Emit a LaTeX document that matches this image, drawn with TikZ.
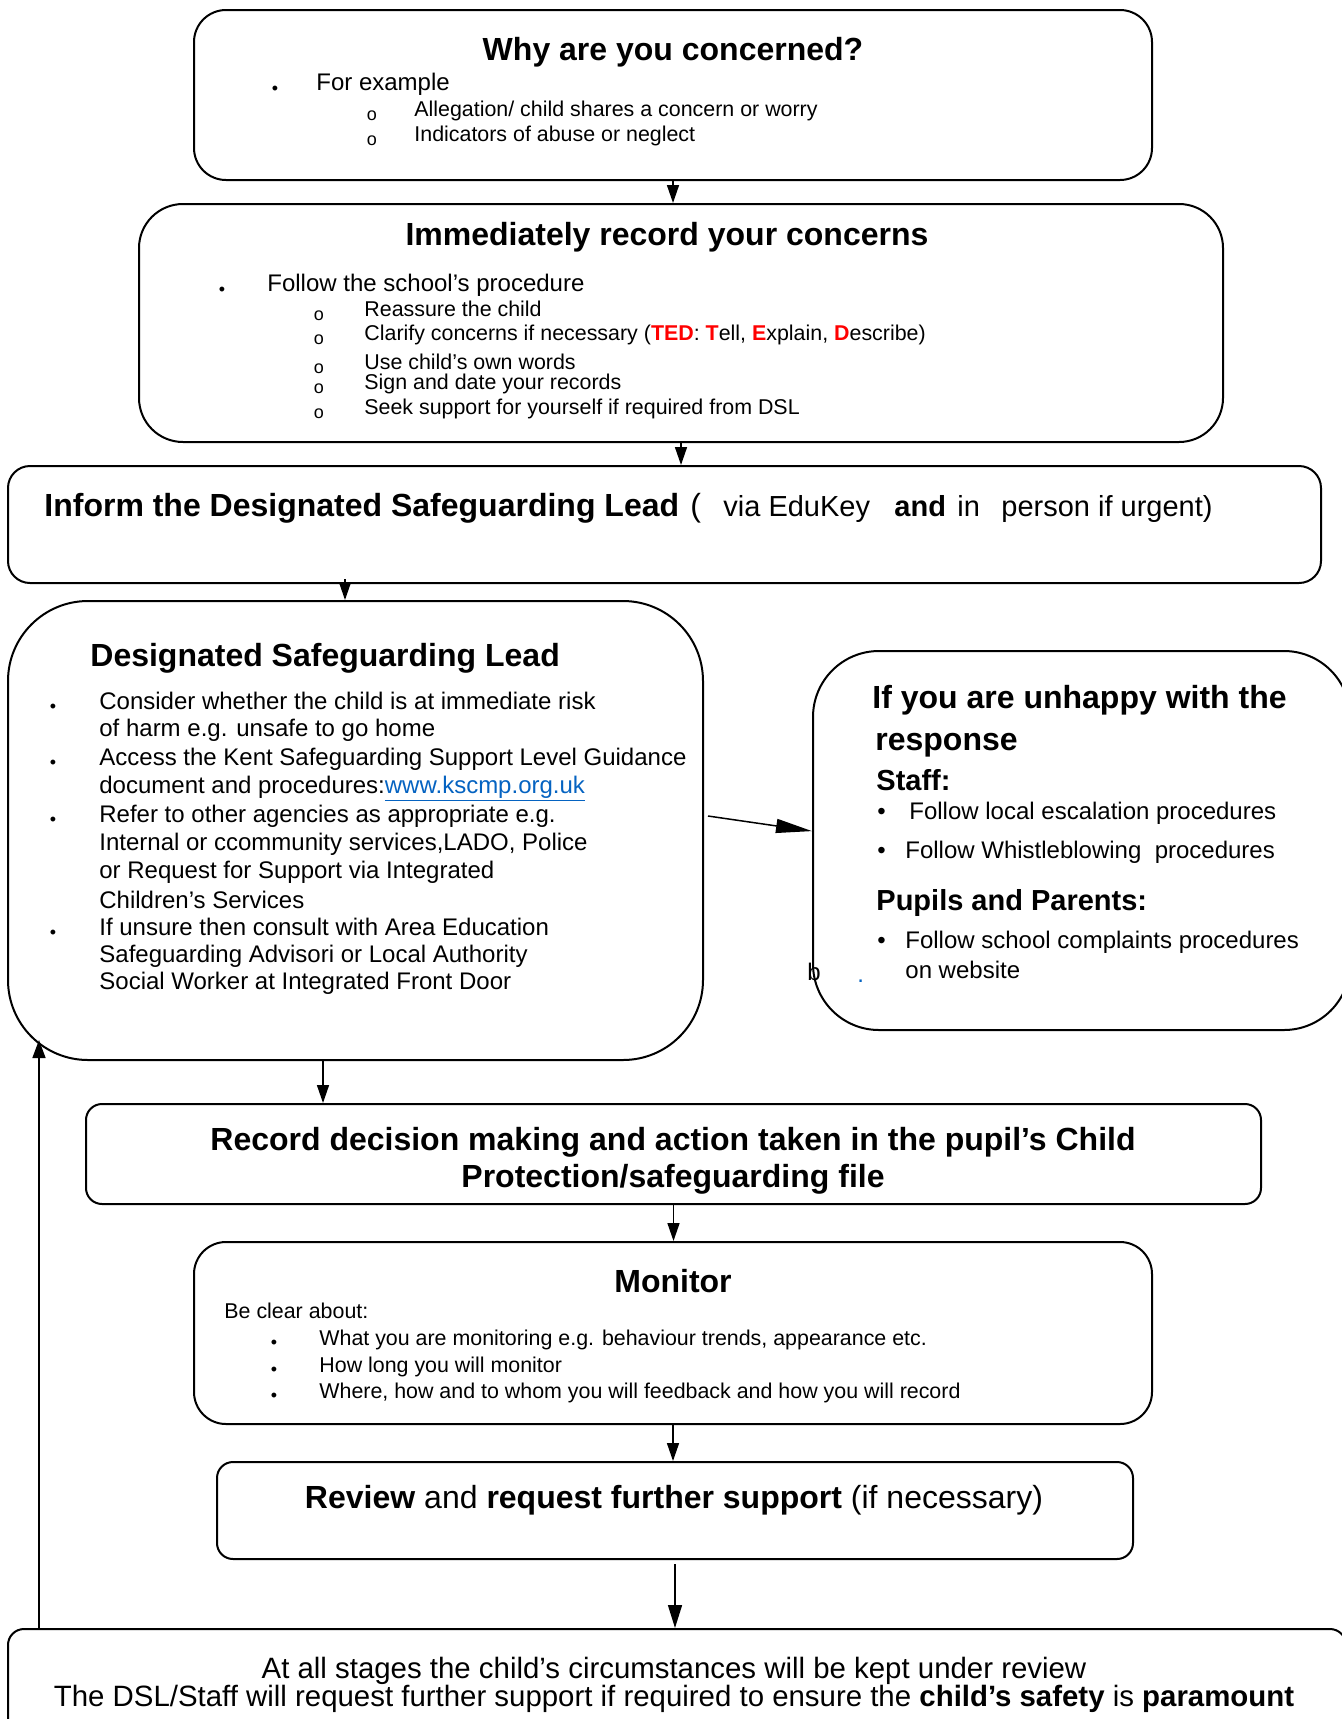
\documentclass[tikz,border=0pt]{standalone}
\usepackage{fontspec}
\setmainfont{Liberation Sans}
\usetikzlibrary{arrows.meta}
\usetikzlibrary{fit}
\definecolor{tedred}{RGB}{255,0,0}
\definecolor{linkblue}{RGB}{5,99,193}

\begin{document}
\begin{tikzpicture}[x=0.5pt, y=-0.5pt]
    \tikzstyle{box} = [draw, line width=1pt, inner sep=0pt]
    \tikzstyle{flow} = [line width=0.75pt, -{Triangle[length=9pt, width=6pt]}]
    \tikzstyle{txt} = [anchor=base west, inner sep=0pt]
    \tikzstyle{ctr} = [anchor=base, inner sep=0pt]
    \tikzstyle{headfont} = [font=\fontsize{16}{19}\selectfont\bfseries]
    \tikzstyle{midfont} = [font=\fontsize{14.5}{17}\selectfont]
    \tikzstyle{midbold} = [font=\fontsize{14.5}{17}\selectfont\bfseries]
    \tikzstyle{bodyfont} = [font=\fontsize{12}{14}\selectfont]
    \tikzstyle{smallfont} = [font=\fontsize{10.7}{12}\selectfont]
    \tikzstyle{bul} = [inner sep=0pt, font=\fontsize{9}{9}\selectfont]
    \tikzstyle{ring} = [anchor=base, inner sep=0pt, font=\fontsize{9}{9}\selectfont]
    \useasboundingbox (0,0) rectangle (1341,1719);

    \node[box, rounded corners=16pt, fit={(194,10) (1152,180)}] (why) {};
    \node[box, rounded corners=22pt, fit={(139,204) (1223,442)}] (record) {};
    \node[box, rounded corners=11pt, fit={(8,466) (1321,583)}] (inform) {};
    \node[box, rounded corners=40pt, fit={(8,601) (703,1060)}] (dsl) {};
    \node[box, rounded corners=33pt, fit={(813,651) (1350,1030)}] (unhappy) {};
    \node[box, rounded corners=8pt, fit={(86,1104) (1261,1204)}] (decision) {};
    \node[box, rounded corners=16pt, fit={(194,1242) (1152,1424)}] (monitor) {};
    \node[box, rounded corners=8pt, fit={(217,1462) (1133,1559)}] (review) {};
    \node[box, rounded corners=8pt, fit={(8,1629) (1346,1770)}] (stages) {};

    \node[ctr, headfont] (whyhead) at (673,60) {Why are you concerned?};
    \node[bul] (whyb) at (275,90) {•};
    \node[txt, bodyfont] (why1) at (316,90) {For example};
    \node[ring] (whyr1) at (372,120) {o};
    \node[ring] (whyr2) at (372,145) {o};
    \node[txt, smallfont] (why2) at (414,116) {Allegation/ child shares a concern or worry};
    \node[txt, smallfont] (why3) at (414,141) {Indicators of abuse or neglect};

    \node[ctr, headfont] (rechead) at (667,245) {Immediately record your concerns};
    \node[bul] (recb) at (222,291) {•};
    \node[txt, bodyfont] (rec1) at (267,291) {Follow the school’s procedure};
    \node[ring] (recr1) at (319,320) {o};
    \node[ring] (recr2) at (319,344) {o};
    \node[ring] (recr3) at (319,373) {o};
    \node[ring] (recr4) at (319,393) {o};
    \node[ring] (recr5) at (319,418) {o};
    \node[txt, smallfont] (rec2) at (364,316) {Reassure the child};
    \node[txt, smallfont] (rec3) at (364,340) {Clarify concerns if necessary (\textcolor{tedred}{\textbf{TED}}: \textcolor{tedred}{\textbf{T}}ell, \textcolor{tedred}{\textbf{E}}xplain, \textcolor{tedred}{\textbf{D}}escribe)};
    \node[txt, smallfont] (rec4) at (364,369) {Use child’s own words};
    \node[txt, smallfont] (rec5) at (364,389) {Sign and date your records};
    \node[txt, smallfont] (rec6) at (364,414) {Seek support for yourself if required from DSL};

    \node[txt, headfont] (inf1) at (44,516) {Inform the Designated Safeguarding Lead};
    \node[txt, font=\fontsize{16}{19}\selectfont] (inf2) at (690,516) {(};
    \node[txt, midfont] (inf3) at (723,516) {via EduKey};
    \node[txt, midbold] (inf4) at (894,516) {and};
    \node[txt, midfont] (inf5) at (957,516) {in};
    \node[txt, midfont] (inf6) at (1001,516) {person if urgent)};

    \node[txt, headfont] (dslhead) at (90,666) {Designated Safeguarding Lead};
    \node[bul] (dslb1) at (53,708) {•};
    \node[bul] (dslb2) at (53,764) {•};
    \node[bul] (dslb3) at (53,821) {•};
    \node[bul] (dslb4) at (53,934) {•};
    \node[txt, bodyfont] (dsl1) at (99,709) {Consider whether the child is at immediate risk};
    \node[txt, bodyfont] (dsl2) at (99,736) {of harm e.g. unsafe to go home};
    \node[txt, bodyfont] (dsl3) at (99,765) {Access the Kent Safeguarding Support Level Guidance};
    \node[txt, bodyfont] (dsl4) at (99,793) {document and procedures:\textcolor{linkblue}{\underline{www.kscmp.org.uk}}};
    \node[txt, bodyfont] (dsl5) at (99,822) {Refer to other agencies as appropriate e.g.};
    \node[txt, bodyfont] (dsl6) at (99,850) {Internal or ccommunity services,LADO, Police};
    \node[txt, bodyfont] (dsl7) at (99,878) {or Request for Support via Integrated};
    \node[txt, bodyfont] (dsl8) at (99,908) {Children’s Services};
    \node[txt, bodyfont] (dsl9) at (99,935) {If unsure then consult with Area Education};
    \node[txt, bodyfont] (dsl10) at (99,962) {Safeguarding Advisori or Local Authority};
    \node[txt, bodyfont] (dsl11) at (99,989) {Social Worker at Integrated Front Door};

    \node[txt, headfont] (unh1) at (872,708) {If you are unhappy with the};
    \node[txt, headfont] (unh2) at (875,750) {response};
    \node[txt, midbold] (unh3) at (876,790) {Staff:};
    \node[txt, bodyfont] (unhb1) at (877,819) {•};
    \node[txt, bodyfont] (unh4) at (909,819) {Follow local escalation procedures};
    \node[txt, bodyfont] (unhb2) at (877,858) {•};
    \node[txt, bodyfont] (unh5) at (905,858) {Follow Whistleblowing\ \ procedures};
    \node[txt, midbold] (unh6) at (876,910) {Pupils and Parents:};
    \node[txt, bodyfont] (unhb3) at (877,948) {•};
    \node[txt, bodyfont] (unh7) at (905,948) {Follow school complaints procedures};
    \node[txt, bodyfont] (unh8) at (905,978) {on website};
    \node[txt, bodyfont] (unh9) at (807,980) {b};
    \node[txt, bodyfont, text=linkblue] (unh10) at (857,982) {.};

    \node[ctr, headfont] (dec1) at (673,1150) {Record decision making and action taken in the pupil’s Child};
    \node[ctr, headfont] (dec2) at (673,1187) {Protection/safeguarding file};

    \node[ctr, headfont] (monhead) at (673,1292) {Monitor};
    \node[txt, smallfont] (mon0) at (224,1318) {Be clear about:};
    \node[bul] (monb1) at (274,1344) {•};
    \node[bul] (monb2) at (274,1371) {•};
    \node[bul] (monb3) at (274,1397) {•};
    \node[txt, smallfont] (mon1) at (319,1345) {What you are monitoring e.g. behaviour trends, appearance etc.};
    \node[txt, smallfont] (mon2) at (319,1372) {How long you will monitor};
    \node[txt, smallfont] (mon3) at (319,1398) {Where, how and to whom you will feedback and how you will record};

    \node[ctr, font=\fontsize{16}{19}\selectfont] (revtext) at (674,1508) {\textbf{Review} and \textbf{request further support} (if necessary)};

    \node[ctr, font=\fontsize{14.7}{17}\selectfont] (stg1) at (674,1678) {At all stages the child’s circumstances will be kept under review};
    \node[ctr, font=\fontsize{14.7}{17}\selectfont] (stg2) at (674,1706) {The DSL/Staff will request further support if required to ensure the \textbf{child’s safety} is \textbf{paramount}};

    \coordinate (k1) at (345,579);
    \coordinate (k2) at (708,816);
    \coordinate (k3) at (323,1104);
    \coordinate (k4) at (39,1040);
    \draw[flow] (why.south) -- (why.south |- record.north);
    \draw[flow] (record.south) -- (record.south |- inform.north);
    \draw[flow] (k1) -- (k1 |- dsl.north);
    \draw[line width=0.75pt, -{Triangle[length=18pt, width=7pt]}] (k2) -- (unhappy.178);
    \draw[flow] (k3 |- dsl.south) -- (k3 |- decision.north);
    \draw[flow] (decision.south) -- (decision.south |- monitor.north);
    \draw[flow] (monitor.south) -- (monitor.south |- review.north);
    \draw[line width=0.75pt, -{Triangle[length=11.5pt, width=7pt]}] ([yshift=-2pt]review.south) -- (review.south |- stages.north);
    \draw[line width=0.75pt, -{Triangle[length=9pt, width=6.5pt]}] (k4 |- stages.north) -- (k4);
\end{tikzpicture}
\end{document}
